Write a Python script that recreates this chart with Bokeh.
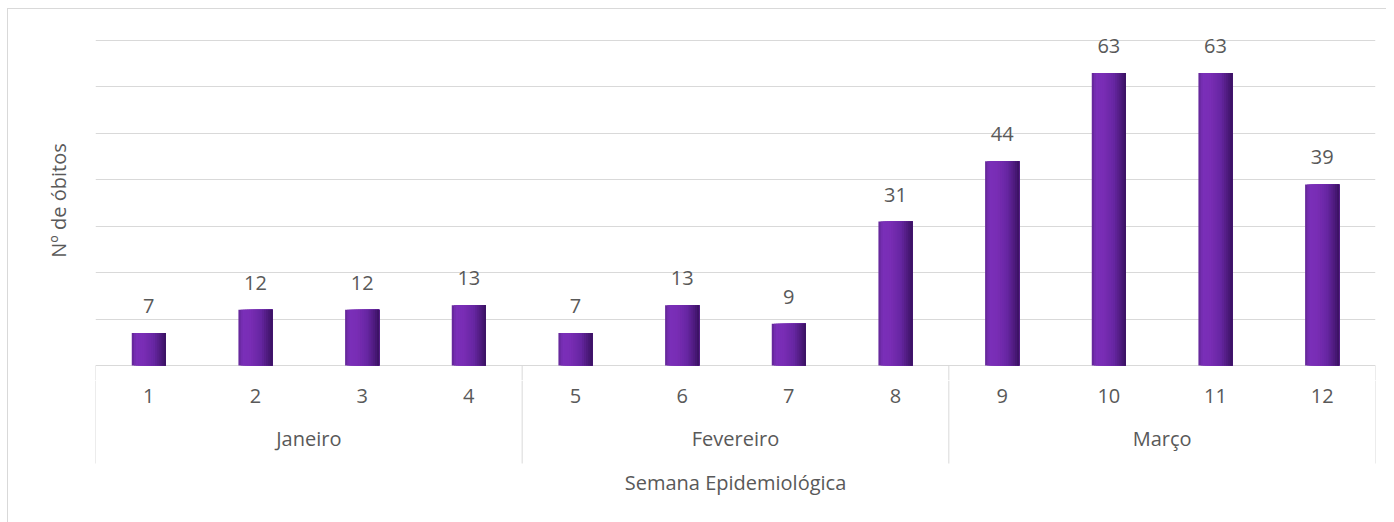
from bokeh.plotting import figure
from bokeh.layouts import column
from bokeh.models import ColumnDataSource, Range1d, FixedTicker
from bokeh.transform import dodge
from bokeh.embed import file_html
from bokeh.resources import INLINE
from bokeh.core.properties import value

# ---------------- data ----------------
weeks = [1, 2, 3, 4, 5, 6, 7, 8, 9, 10, 11, 12]
deaths = [7, 12, 12, 13, 7, 13, 9, 31, 44, 63, 63, 39]
week_labels = ["1", "2", "3", "4", "5", "6", "7", "8", "9", "10", "11", "12"]
months = ["Janeiro", "Fevereiro", "Março"]
week_month = ["Janeiro", "Janeiro", "Janeiro", "Janeiro",
              "Fevereiro", "Fevereiro", "Fevereiro", "Fevereiro",
              "Março", "Março", "Março", "Março"]
y_ticks = [0, 10, 20, 30, 40, 50, 60, 70]
y_title = "Nº de óbitos"
x_title = "Semana Epidemiológica"

# ---------------- style ----------------
FONT_NAME = "Open Sans"
FONT = value(FONT_NAME)
TXT = "#595959"
GRID = "#d9d9d9"
FS = "20px"
W = 1378
LEFT, RIGHT = 87, 11
BAR_W = 0.32
Y0, Y1 = -3.23, 74.31

src = ColumnDataSource(dict(week=weeks, deaths=deaths, lbl=[str(d) for d in deaths]))

x_range = Range1d(min(weeks) - 0.5, max(weeks) + 0.5)

# month centres and separators derived from the data
m_centers, bounds = [], []
for m in months:
    ws = [w for w, mm in zip(weeks, week_month) if mm == m]
    m_centers.append(sum(ws) / len(ws))
    bounds.append(min(ws) - 0.5)
bounds.append(max(weeks) + 0.5)

p = figure(width=W, height=371, x_range=x_range, y_range=Range1d(Y0, Y1),
           output_backend="svg", toolbar_location=None,
           min_border_left=LEFT, min_border_right=RIGHT, min_border_top=11, min_border_bottom=0)
p.outline_line_color = None
p.xaxis.visible = False
p.xgrid.visible = False
p.ygrid.ticker = FixedTicker(ticks=y_ticks)
p.ygrid.grid_line_color = GRID
p.ygrid.grid_line_width = 1

p.yaxis.ticker = FixedTicker(ticks=[])
p.yaxis.axis_line_color = None
p.yaxis.major_tick_line_color = None
p.yaxis.minor_tick_line_color = None
p.yaxis.major_label_text_font_size = "0px"
p.yaxis.major_label_standoff = 0
p.yaxis.axis_label = y_title
p.yaxis.axis_label_text_font = FONT_NAME
p.yaxis.axis_label_text_font_style = "normal"
p.yaxis.axis_label_text_font_size = FS
p.yaxis.axis_label_text_color = TXT
p.yaxis.axis_label_standoff = 24

# separators: upper part (below the baseline, inside this frame)
p.segment(x0=bounds, y0=[0] * len(bounds), x1=bounds, y1=[Y0] * len(bounds),
          line_color=GRID, line_width=1)

# gradient bars built from overlapping vertical strips
stops = [(0.0, (0x60, 0x26, 0x94)), (0.12, (0x7a, 0x2f, 0xb8)), (0.35, (0x79, 0x2d, 0xb5)),
         (0.65, (0x67, 0x26, 0xa2)), (0.85, (0x4e, 0x1b, 0x7e)), (1.0, (0x38, 0x11, 0x60))]

def grad(t):
    for (t0, c0), (t1, c1) in zip(stops[:-1], stops[1:]):
        if t0 <= t <= t1:
            f = (t - t0) / (t1 - t0)
            c = [round(a + (b - a) * f) for a, b in zip(c0, c1)]
            return "#%02x%02x%02x" % tuple(c)
    return "#%02x%02x%02x" % stops[-1][1]

N = 16
sw = BAR_W / N
for i in range(N):
    left = -BAR_W / 2 + i * sw
    right = BAR_W / 2
    p.vbar(x=dodge("week", (left + right) / 2), top="deaths", bottom=0, width=right - left,
           source=src, fill_color=grad((i + 0.5) / N), line_color=None)

p.text(x="week", y="deaths", text="lbl", source=src, y_offset=-27,
       text_align="center", text_baseline="middle", text_font=FONT,
       text_font_size=FS, text_color=TXT)

# ---------------- category axis panel ----------------
p2 = figure(width=W, height=142, x_range=x_range, y_range=Range1d(142, 0),
            output_backend="svg", toolbar_location=None,
            min_border_left=LEFT, min_border_right=RIGHT, min_border_top=0, min_border_bottom=0)
p2.outline_line_color = None
p2.axis.visible = False
p2.grid.visible = False

p2.text(x=weeks, y=[15] * len(weeks), text=week_labels, text_align="center",
        text_baseline="middle", text_font=FONT, text_font_size=FS, text_color=TXT)
p2.text(x=m_centers, y=[58] * len(months), text=months, text_align="center",
        text_baseline="middle", text_font=FONT, text_font_size=FS, text_color=TXT)
p2.segment(x0=bounds, y0=[0] * len(bounds), x1=bounds, y1=[83] * len(bounds),
           line_color=GRID, line_width=1)

mid = (min(weeks) + max(weeks)) / 2
p2.text(x=[mid], y=[102], text=[x_title], text_align="center", text_baseline="middle",
        text_font=FONT, text_font_size=FS, text_color=TXT)

layout = column(p, p2, spacing=0,
                styles={"margin": "8px 0 0 7px",
                        "border-left": "1px solid #d9d9d9", "border-top": "1px solid #d9d9d9"})

open("out.html", "w").write(file_html(layout, INLINE))
